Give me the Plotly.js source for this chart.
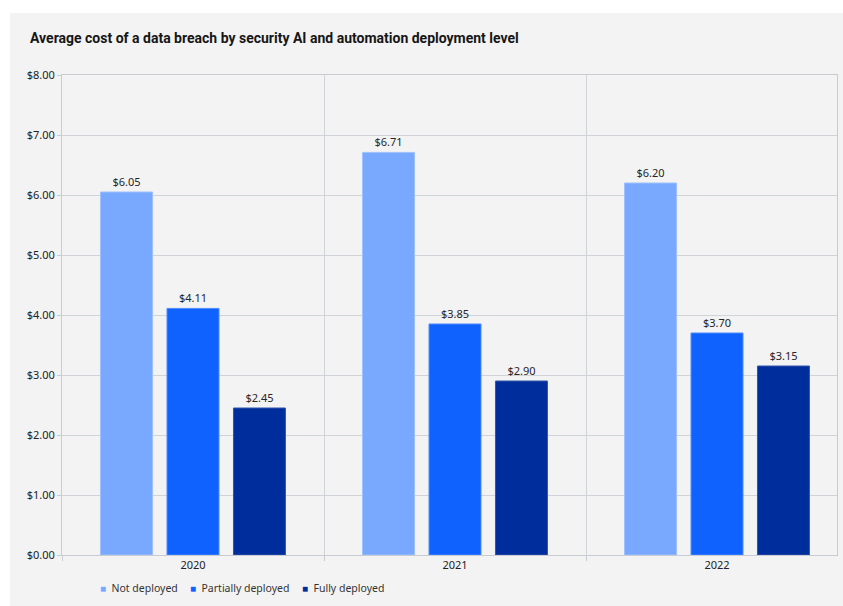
<!DOCTYPE html>
<html>
<head>
<meta charset="utf-8">
<script src="https://cdn.plot.ly/plotly-3.0.1.min.js"></script>
<style>
  html, body { margin: 0; padding: 0; background: #ffffff; }
  #chart { position: absolute; left: 10px; top: 13px; width: 833px; height: 593px; }
</style>
</head>
<body>
<div id="chart"></div>
<script>
const years = ["2020", "2021", "2022"];
const seriesNames = ["Not deployed", "Partially deployed", "Fully deployed"];
const notDeployed = [6.05, 6.71, 6.20];
const partiallyDeployed = [4.11, 3.85, 3.70];
const fullyDeployed = [2.45, 2.90, 3.15];
const yTickVals = [0, 1, 2, 3, 4, 5, 6, 7, 8];
const yTickText = ["$0.00", "$1.00", "$2.00", "$3.00", "$4.00", "$5.00", "$6.00", "$7.00", "$8.00"];

const colors = ["#78a9ff", "#0f62fe", "#002d9c"];
const lines = ["#9ec1ff", "#4d8bff", "#3355aa"];
const values = [notDeployed, partiallyDeployed, fullyDeployed];

const traces = values.map((v, i) => ({
  type: "bar",
  name: seriesNames[i],
  x: years,
  y: v,
  marker: { color: colors[i], line: { color: lines[i], width: 1 } },
  texttemplate: "$%{y:.2f}",
  textposition: "outside",
  cliponaxis: false,
  textfont: { family: "Noto Sans, sans-serif", size: 11, color: "#262626" },
  hoverinfo: "skip",
  showlegend: false
}));

// Custom compact legend (small square swatches), built from the series names/colours
const legendX = [88, 178, 290]; // px from left of the figure
const legendAnnotations = seriesNames.map((name, i) => ({
  xref: "paper", yref: "paper",
  x: (legendX[i] - 52) / 775,
  y: -(575 - 542) / 480,
  xanchor: "left", yanchor: "middle",
  showarrow: false,
  text: "<span style='color:" + colors[i] + ";font-size:10px'>■</span>  " + name,
  font: { family: "Noto Sans, sans-serif", size: 10.5, color: "#333333" }
}));

const layout = {
  width: 833,
  height: 593,
  margin: { l: 52, r: 6, t: 62, b: 51 },
  paper_bgcolor: "#f3f3f3",
  plot_bgcolor: "#f3f3f3",
  barmode: "group",
  bargap: 0.239,
  bargroupgap: 0.218,
  title: {
    text: "<b>Average cost of a data breach by security AI and automation deployment level</b>",
    font: { family: "Liberation Sans Narrow, Roboto, sans-serif", size: 14, color: "#161616" },
    x: 20 / 833, xanchor: "left", xref: "container",
    y: 1 - 25 / 593, yanchor: "middle", yref: "container"
  },
  xaxis: {
    type: "category",
    range: [-0.5, 2.458],
    tickson: "boundaries",
    ticks: "outside",
    ticklen: 5,
    tickcolor: "#c8ccd2",
    showgrid: true,
    gridcolor: "#d0d3d8",
    gridwidth: 1,
    showline: true,
    linecolor: "#c8ccd2",
    mirror: true,
    tickfont: { family: "Noto Sans, sans-serif", size: 11, color: "#222222" },
    fixedrange: true
  },
  yaxis: {
    range: [0, 8],
    tickvals: yTickVals,
    ticktext: yTickText,
    ticks: "outside",
    ticklen: 4,
    tickcolor: "#c8ccd2",
    showgrid: true,
    gridcolor: "#d0d3d8",
    gridwidth: 1,
    zeroline: false,
    showline: true,
    linecolor: "#c8ccd2",
    mirror: true,
    tickfont: { family: "Noto Sans, sans-serif", size: 11, color: "#222222" },
    fixedrange: true
  },
  showlegend: false,
  annotations: legendAnnotations
};

Plotly.newPlot("chart", traces, layout, { displayModeBar: false, staticPlot: true });
</script>
</body>
</html>
